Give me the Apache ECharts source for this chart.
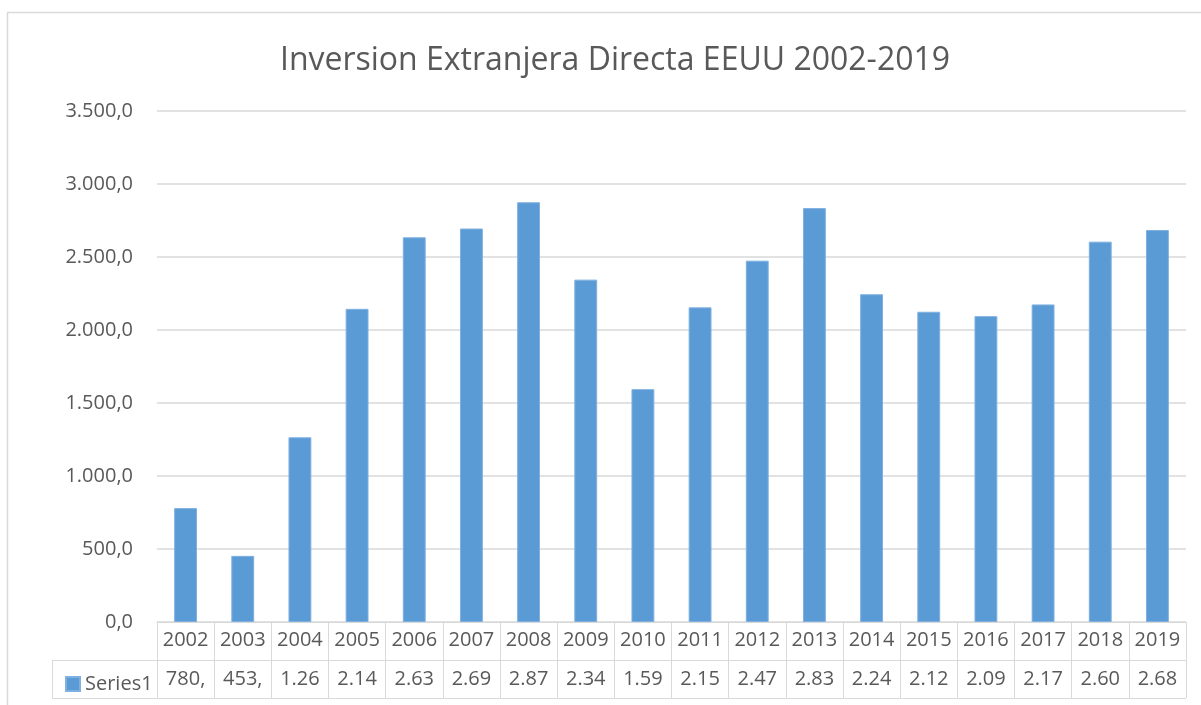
<!DOCTYPE html>
<html>
<head>
<meta charset="utf-8">
<script src="https://cdn.jsdelivr.net/npm/echarts@6/dist/echarts.min.js"></script>
<style>
html,body{margin:0;padding:0;background:#fff;}
#c{width:1201px;height:705px;}
</style>
</head>
<body>
<div id="c"></div>
<script>
const titleText = 'Inversion Extranjera Directa EEUU 2002-2019';
const seriesName = 'Series1';
const years = ['2002','2003','2004','2005','2006','2007','2008','2009','2010','2011','2012','2013','2014','2015','2016','2017','2018','2019'];
const values = [780.0, 453.0, 1265.0, 2145.0, 2635.0, 2695.0, 2875.0, 2345.0, 1595.0, 2155.0, 2475.0, 2835.0, 2245.0, 2125.0, 2095.0, 2175.0, 2605.0, 2685.0];
const yMin = 0, yMax = 3500, yStep = 500;

function fmtEs(v) {
  const fixed = v.toFixed(1);
  let [ip, dp] = fixed.split('.');
  ip = ip.replace(/\B(?=(\d{3})+(?!\d))/g, '.');
  return ip + ',' + dp;
}
// Excel data table truncates the cell text to what fits
const tableLabels = values.map(v => fmtEs(v).slice(0, 4));

const W = 1201, H = 705;
const gLeft = 157, gRight = 15, gTop = 111, gBottom = 83;
const axisY = H - gBottom;          // 622
const rowH = 38;
const tableRight = W - gRight;      // 1186
const legendCellLeft = 52;
const gridColor = '#d9d9d9';
const textColor = '#595959';
const font = 'Open Sans';

const chart = echarts.init(document.getElementById('c'), null, {renderer: 'canvas'});
chart.setOption({
  backgroundColor: '#fff',
  animation: false,
  textStyle: {fontFamily: font},
  title: {
    text: titleText,
    left: 610, top: 40, textAlign: 'center',
    textStyle: {fontFamily: font, fontSize: 32, fontWeight: 'normal', color: textColor}
  },
  legend: {
    show: true,
    left: 60, top: 669,
    icon: 'rect', itemWidth: 14, itemHeight: 14,
    textStyle: {fontFamily: font, fontSize: 20, color: textColor},
    data: [seriesName]
  },
  grid: {left: gLeft, right: gRight, top: gTop, bottom: gBottom, containLabel: false},
  xAxis: [{
    type: 'category',
    data: years,
    position: 'bottom',
    boundaryGap: true,
    axisLine: {show: true, lineStyle: {color: gridColor, width: 1}},
    axisTick: {show: true, interval: 0, length: rowH * 2, lineStyle: {color: gridColor, width: 1}},
    axisLabel: {interval: 0, margin: 8, fontFamily: font, fontSize: 20, color: textColor}
  }, {
    type: 'category',
    data: years,
    position: 'bottom',
    offset: rowH,
    boundaryGap: true,
    axisLine: {show: true, lineStyle: {color: gridColor, width: 1}},
    axisTick: {show: false},
    axisLabel: {interval: 0, margin: 9, fontFamily: font, fontSize: 20, color: textColor,
      formatter: (v, i) => tableLabels[i]}
  }],
  yAxis: {
    type: 'value',
    min: yMin, max: yMax, interval: yStep,
    axisLine: {show: false},
    axisTick: {show: false},
    splitLine: {lineStyle: {color: gridColor, width: 1.5}},
    axisLabel: {margin: 24, fontFamily: font, fontSize: 20, color: textColor, formatter: v => fmtEs(v)}
  },
  series: [{
    name: seriesName,
    type: 'bar',
    data: values,
    barWidth: '40%',
    itemStyle: {color: '#5b9bd5', borderColor: '#7fb0e0', borderWidth: 1}
  }],
  graphic: [
    {type: 'rect', silent: true, shape: {x: 7.5, y: 12.5, width: W + 20, height: H + 20},
      style: {fill: 'none', stroke: gridColor, lineWidth: 1.5}, z: 0},
    {type: 'line', silent: true, shape: {x1: legendCellLeft, y1: axisY + rowH + 0.5, x2: gLeft, y2: axisY + rowH + 0.5},
      style: {stroke: gridColor, lineWidth: 1}},
    {type: 'line', silent: true, shape: {x1: legendCellLeft, y1: axisY + 2 * rowH + 0.5, x2: tableRight, y2: axisY + 2 * rowH + 0.5},
      style: {stroke: gridColor, lineWidth: 1}},
    {type: 'line', silent: true, shape: {x1: legendCellLeft + 0.5, y1: axisY + rowH, x2: legendCellLeft + 0.5, y2: axisY + 2 * rowH},
      style: {stroke: gridColor, lineWidth: 1}}
  ]
});
</script>
</body>
</html>
